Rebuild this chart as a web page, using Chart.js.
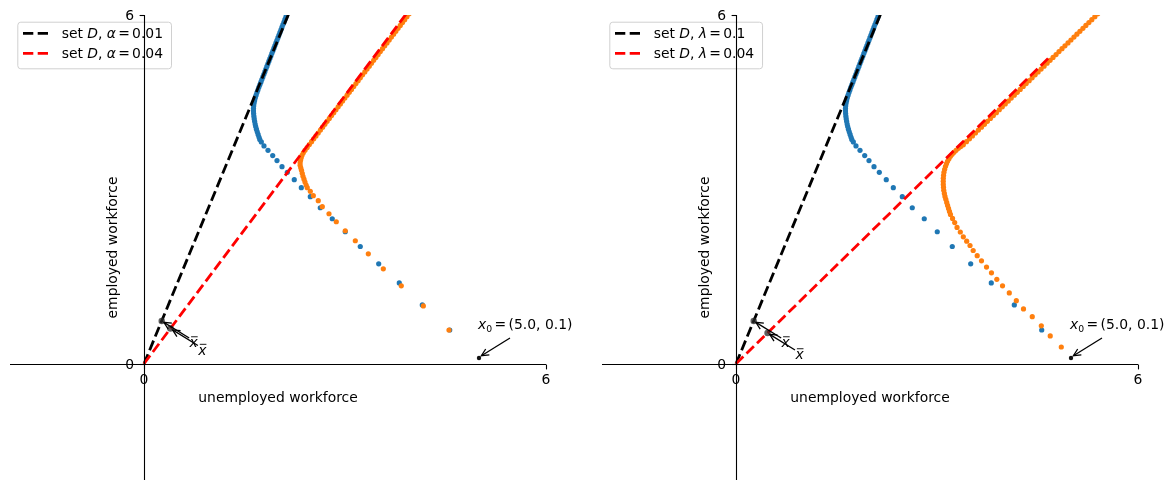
<!DOCTYPE html>
<html>
<head>
<meta charset="utf-8">
<script src="https://cdn.jsdelivr.net/npm/chart.js@4.4.0/dist/chart.umd.min.js"></script>
<style>
  html, body { margin: 0; padding: 0; background: #fff; }
  body { width: 1175px; height: 489px; overflow: hidden; position: relative; }
  canvas { position: absolute; top: 0; }
</style>
</head>
<body>
<canvas id="c1" width="592" height="489" style="left:0px"></canvas>
<canvas id="c2" width="583" height="489" style="left:592px"></canvas>
<script>
// ---------------- data ----------------
const xTicks = [0, 6];
const yTicks = [0, 6];
const x0 = [5.0, 0.1];

// baseline trajectory (blue), same in both panels
const blueU = [4.563, 4.154, 3.810, 3.503, 3.228, 3.004, 2.810, 2.631, 2.482, 2.348,
  2.243, 2.139, 2.060, 1.985, 1.921, 1.851, 1.791, 1.751,
  1.728, 1.716, 1.703, 1.690, 1.678, 1.667, 1.659, 1.651, 1.645, 1.640,
  1.636, 1.634, 1.634, 1.637, 1.643, 1.651, 1.661, 1.673, 1.686, 1.700,
  1.714, 1.729, 1.744, 1.759, 1.774, 1.789, 1.804, 1.819, 1.834, 1.849,
  1.864, 1.879, 1.894, 1.909, 1.924, 1.939, 1.954, 1.969, 1.984, 1.999,
  2.014, 2.029, 2.044, 2.059, 2.074, 2.089, 2.104, 2.119, 2.134, 2.149];
const blueE = [0.581, 1.012, 1.391, 1.719, 2.017, 2.271, 2.495, 2.684, 2.874, 3.029,
  3.167, 3.293, 3.391, 3.495, 3.581, 3.672, 3.747, 3.816,
  3.86, 3.90, 3.945, 3.99, 4.035, 4.08, 4.125, 4.17, 4.215, 4.26,
  4.305, 4.35, 4.395, 4.44, 4.485, 4.53, 4.575, 4.62, 4.665, 4.71,
  4.755, 4.80, 4.845, 4.89, 4.935, 4.98, 5.025, 5.07, 5.115, 5.16,
  5.205, 5.25, 5.295, 5.34, 5.385, 5.43, 5.475, 5.52, 5.565, 5.61,
  5.655, 5.70, 5.745, 5.79, 5.835, 5.88, 5.925, 5.97, 6.015, 6.06];

// left panel, alpha = 0.04 (orange)
const orangeAlphaU = [4.552, 4.169, 3.840, 3.572, 3.348, 3.154, 3.004, 2.870, 2.761, 2.661,
  2.601, 2.527, 2.482, 2.437, 2.420, 2.403, 2.388, 2.373, 2.362, 2.351,
  2.340, 2.330, 2.330, 2.336, 2.346, 2.358, 2.378, 2.403,
  2.435, 2.468, 2.501, 2.534, 2.567, 2.600, 2.633, 2.666, 2.700, 2.733,
  2.766, 2.799, 2.832, 2.865, 2.898, 2.931, 2.964, 2.998, 3.031, 3.064,
  3.097, 3.130, 3.163, 3.196, 3.229, 3.262, 3.296, 3.329, 3.362, 3.395,
  3.428, 3.461, 3.494, 3.527, 3.560, 3.593, 3.627, 3.660, 3.693, 3.726,
  3.759, 3.792, 3.825, 3.858, 3.891, 3.924, 3.958, 3.991];
const orangeAlphaE = [0.581, 0.995, 1.340, 1.633, 1.891, 2.116, 2.288, 2.443, 2.581, 2.702,
  2.805, 2.891, 2.966, 3.029, 3.075, 3.126, 3.175, 3.224, 3.276, 3.328,
  3.371, 3.414, 3.457, 3.500, 3.543, 3.586, 3.630, 3.672,
  3.72, 3.77, 3.82, 3.87, 3.92, 3.97, 4.02, 4.07, 4.12, 4.17,
  4.22, 4.27, 4.32, 4.37, 4.42, 4.47, 4.52, 4.57, 4.62, 4.67,
  4.72, 4.77, 4.82, 4.87, 4.92, 4.97, 5.02, 5.07, 5.12, 5.17,
  5.22, 5.27, 5.32, 5.37, 5.42, 5.47, 5.52, 5.57, 5.62, 5.67,
  5.72, 5.77, 5.82, 5.87, 5.92, 5.97, 6.02, 6.07];

// right panel, lambda = 0.04 (orange)
const orangeLambdaU = [4.855, 4.690, 4.557, 4.422, 4.291, 4.184, 4.079, 3.978, 3.893, 3.813,
  3.739, 3.664, 3.600, 3.540, 3.493, 3.443, 3.393, 3.348, 3.299, 3.264,
  3.232, 3.201, 3.186, 3.172, 3.158, 3.145, 3.132, 3.119, 3.110, 3.101,
  3.097, 3.094, 3.093, 3.094, 3.098, 3.104, 3.114, 3.127, 3.141, 3.157,
  3.178, 3.201, 3.226, 3.254, 3.285, 3.318, 3.354, 3.393,
  3.440, 3.485, 3.529, 3.574, 3.618, 3.663, 3.708, 3.752, 3.797, 3.841,
  3.886, 3.930, 3.975, 4.019, 4.064, 4.108, 4.153, 4.198, 4.242, 4.287,
  4.331, 4.376, 4.420, 4.465, 4.509, 4.554, 4.598, 4.643, 4.688, 4.732,
  4.777, 4.821, 4.866, 4.910, 4.955, 4.999, 5.044, 5.088, 5.133, 5.178,
  5.222, 5.267, 5.311, 5.356, 5.400, 5.445];
const orangeLambdaE = [0.288, 0.478, 0.652, 0.810, 0.943, 1.086, 1.219, 1.340, 1.452, 1.564,
  1.664, 1.771, 1.859, 1.948, 2.034, 2.109, 2.184, 2.267, 2.345, 2.428,
  2.50, 2.569, 2.62, 2.672, 2.724, 2.776, 2.828, 2.879, 2.931, 2.983,
  3.035, 3.086, 3.138, 3.190, 3.241, 3.293, 3.345, 3.397, 3.44, 3.483,
  3.526, 3.569, 3.604, 3.638, 3.672, 3.707, 3.737, 3.767,
  3.82, 3.87, 3.92, 3.97, 4.02, 4.07, 4.12, 4.17, 4.22, 4.27,
  4.32, 4.37, 4.42, 4.47, 4.52, 4.57, 4.62, 4.67, 4.72, 4.77,
  4.82, 4.87, 4.92, 4.97, 5.02, 5.07, 5.12, 5.17, 5.22, 5.27,
  5.32, 5.37, 5.42, 5.47, 5.52, 5.57, 5.62, 5.67, 5.72, 5.77,
  5.82, 5.87, 5.92, 5.97, 6.02, 6.07];

// stationary (normalised) points x-bar
const xbarBase = [0.264, 0.736];
const xbarAlpha = [0.394, 0.606];
const xbarLambda = [0.47, 0.53];
const lineScale = [0, 10];   // set D drawn as t * x-bar, t in [0, 10]

const leftLegend = [["\u03b1", "0.01"], ["\u03b1", "0.04"]];
const rightLegend = [["\u03bb", "0.1"], ["\u03bb", "0.04"]];
const xLabel = "unemployed workforce";
const yLabel = "employed workforce";

// ---------------- helpers ----------------
const FAM = '"DejaVu Sans"';
const FS = 13.9;
const BLUE = '#1f77b4', ORANGE = '#ff7f0e';
function font(it, size) { return (it ? 'italic ' : '') + (size || FS) + 'px ' + FAM; }
function zip(u, e) { return u.map((v, i) => ({ x: v, y: e[i] })); }
function rayPts(xb) { return lineScale.map(t => ({ x: t * xb[0], y: t * xb[1] })); }

function richWidth(ctx, segs) {
  let w = 0;
  for (const s of segs) {
    if (s.gap) { w += s.gap; continue; }
    ctx.font = font(s.it, s.size); w += ctx.measureText(s.t).width;
  }
  return w;
}
function drawRich(ctx, segs, x, y) {
  let cx = x;
  for (const s of segs) {
    if (s.gap) { cx += s.gap; continue; }
    ctx.font = font(s.it, s.size);
    ctx.fillText(s.t, cx, y + (s.dy || 0));
    cx += ctx.measureText(s.t).width;
  }
  return cx;
}
function arrow(ctx, x1, y1, x2, y2) {
  ctx.beginPath(); ctx.moveTo(x1, y1); ctx.lineTo(x2, y2); ctx.stroke();
  const a = Math.atan2(y2 - y1, x2 - x1), L = 8, W = 0.45;
  ctx.beginPath();
  ctx.moveTo(x2 - L * Math.cos(a - W), y2 - L * Math.sin(a - W));
  ctx.lineTo(x2, y2);
  ctx.lineTo(x2 - L * Math.cos(a + W), y2 - L * Math.sin(a + W));
  ctx.stroke();
}
function xbarGlyph(ctx, cx, by) {
  ctx.font = font(true);
  const w = ctx.measureText('x').width;
  ctx.fillText('x', cx - w / 2, by);
  ctx.save();
  ctx.lineWidth = 0.9;
  ctx.beginPath(); ctx.moveTo(cx - 2.6, by - 10.2); ctx.lineTo(cx + 4.0, by - 10.2); ctx.stroke();
  ctx.restore();
}

const decorPlugin = {
  id: 'decor',
  afterDatasetsDraw(chart) {
    const p = chart.options.plugins.decor;
    const ctx = chart.ctx, sx = chart.scales.x, sy = chart.scales.y;
    const X = v => sx.getPixelForValue(v), Y = v => sy.getPixelForValue(v);
    ctx.save();
    ctx.fillStyle = '#000'; ctx.strokeStyle = '#000'; ctx.textBaseline = 'alphabetic';

    // ---- legend ----
    const rows = p.legend.map((r, i) => ({
      segs: [{ t: 'set ' }, { t: 'D', it: true }, { t: ', ' }, { t: r[0], it: true },
             { gap: 2.2 }, { t: '=' }, { gap: 2.2 }, { t: r[1] }],
      color: i === 0 ? '#000' : '#ff0000'
    }));
    const tw = Math.max(...rows.map(r => richWidth(ctx, r.segs)));
    const bx = 17.3, by = 21.7, bw = 44.4 + tw + 8, bh = 46.6;
    ctx.save();
    ctx.beginPath();
    ctx.roundRect(bx + 0.5, by + 0.5, bw, bh, 3);
    ctx.fillStyle = 'rgba(255,255,255,0.8)'; ctx.fill();
    ctx.strokeStyle = '#d0d0d0'; ctx.lineWidth = 1; ctx.stroke();
    ctx.restore();
    rows.forEach((r, i) => {
      const cy = 33.3 + 20 * i;
      ctx.save();
      ctx.strokeStyle = r.color; ctx.lineWidth = 2.8; ctx.setLineDash([10.3, 4.4]);
      ctx.beginPath(); ctx.moveTo(23, cy); ctx.lineTo(48.5, cy); ctx.stroke();
      ctx.restore();
      ctx.fillStyle = '#000';
      drawRich(ctx, r.segs, bx + 44.4, cy + 5);
    });

    // ---- spines at zero ----
    ctx.lineWidth = 1.1; ctx.strokeStyle = '#000';
    const y0 = Math.round(Y(0)) + 0.5, xz = Math.round(X(0)) + 0.5;
    ctx.beginPath(); ctx.moveTo(X(-2), y0); ctx.lineTo(X(6), y0); ctx.stroke();
    ctx.beginPath(); ctx.moveTo(xz, Y(-2)); ctx.lineTo(xz, Y(6)); ctx.stroke();
    // ticks
    xTicks.forEach(t => {
      const px = Math.round(X(t)) + 0.5;
      ctx.beginPath(); ctx.moveTo(px, y0); ctx.lineTo(px, y0 + 4.9); ctx.stroke();
    });
    yTicks.forEach(t => {
      const py = Math.round(Y(t)) + 0.5;
      ctx.beginPath(); ctx.moveTo(xz - 4.9, py); ctx.lineTo(xz, py); ctx.stroke();
    });
    ctx.font = font(false);
    ctx.textAlign = 'center';
    xTicks.forEach(t => ctx.fillText(String(t), X(t), Y(0) + 20));
    ctx.textAlign = 'right';
    yTicks.forEach(t => ctx.fillText(String(t), X(0) - 9.8, Y(t) + 5));

    // axis labels
    ctx.textAlign = 'center'; ctx.textBaseline = 'middle';
    const ca = chart.chartArea;
    ctx.fillText(xLabel, (ca.left + ca.right) / 2, Y(0) + 35);
    ctx.save();
    ctx.translate(X(0) - 31, (ca.top + ca.bottom) / 2);
    ctx.rotate(-Math.PI / 2);
    ctx.fillText(yLabel, 0, 0);
    ctx.restore();
    ctx.textAlign = 'left'; ctx.textBaseline = 'alphabetic';

    // ---- annotations ----
    ctx.lineWidth = 1.3;
    p.xbars.forEach(xb => {
      const dx = X(xb[0]), dy = Y(xb[1]);
      arrow(ctx, dx + 27.5, dy + 17, dx + 2.2, dy + 1.4);
      xbarGlyph(ctx, dx + 32, dy + 26);
    });
    const ox = X(x0[0]), oy = Y(x0[1]);
    arrow(ctx, ox + 31, oy - 20, ox + 2.4, oy - 2.2);
    drawRich(ctx, [{ t: 'x', it: true }, { t: '0', size: 9.3, dy: 2.4 }, { gap: 2.4 }, { t: '=' },
                   { gap: 2.4 }, { t: '(5.0, 0.1)' }], ox - 1, oy - 28.8);
    ctx.restore();
  }
};

function makeChart(id, orangeU, orangeE, xbarRed, legend) {
  return new Chart(document.getElementById(id), {
    type: 'scatter',
    data: {
      datasets: [
        { label: 'trajectory', data: zip(blueU, blueE), pointBackgroundColor: BLUE,
          pointRadius: 2.6, pointBorderWidth: 0, pointHoverRadius: 0, clip: 0, order: 6 },
        { label: 'set D black', data: rayPts(xbarBase), showLine: true, borderColor: '#000',
          borderWidth: 2.8, borderDash: [10.3, 4.4], pointRadius: 0, clip: 0, order: 5 },
        { label: 'trajectory 2', data: zip(orangeU, orangeE), pointBackgroundColor: ORANGE,
          pointRadius: 2.6, pointBorderWidth: 0, pointHoverRadius: 0, clip: 0, order: 4 },
        { label: 'set D red', data: rayPts(xbarRed), showLine: true, borderColor: '#ff0000',
          borderWidth: 2.8, borderDash: [10.3, 4.4], pointRadius: 0, clip: 0, order: 3 },
        { label: 'xbar', data: [{ x: xbarBase[0], y: xbarBase[1] }, { x: xbarRed[0], y: xbarRed[1] }],
          pointBackgroundColor: 'rgba(40,40,40,0.75)', pointRadius: 3.2, pointBorderWidth: 0, clip: 0, order: 2 },
        { label: 'x0', data: [{ x: x0[0], y: x0[1] }], pointBackgroundColor: '#111',
          pointRadius: 2.2, pointBorderWidth: 0, clip: 0, order: 1 }
      ]
    },
    options: {
      responsive: false, animation: false, devicePixelRatio: 1, events: [],
      layout: { padding: { left: 10, right: document.getElementById(id).width - 546, top: 15, bottom: 9 } },
      scales: {
        x: { type: 'linear', min: -2, max: 6, display: false },
        y: { type: 'linear', min: -2, max: 6, display: false }
      },
      plugins: {
        legend: { display: false }, tooltip: { enabled: false },
        decor: { legend: legend, xbars: [xbarBase, xbarRed] }
      }
    },
    plugins: [decorPlugin]
  });
}

makeChart('c1', orangeAlphaU, orangeAlphaE, xbarAlpha, leftLegend);
makeChart('c2', orangeLambdaU, orangeLambdaE, xbarLambda, rightLegend);
</script>
</body>
</html>
